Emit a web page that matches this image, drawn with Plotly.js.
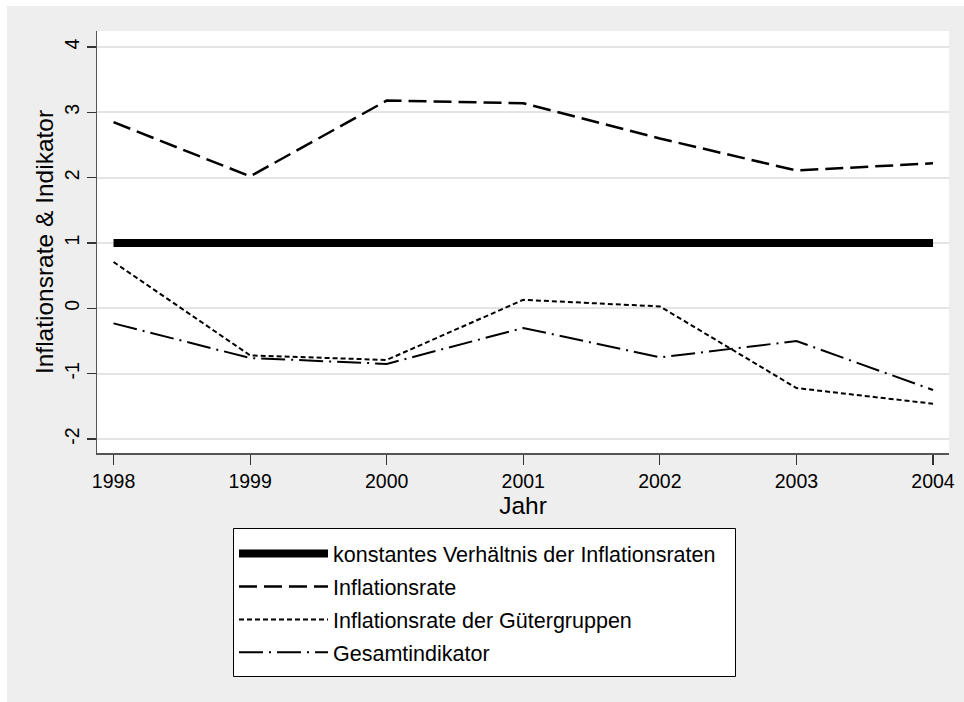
<!DOCTYPE html>
<html>
<head>
<meta charset="utf-8">
<script src="https://cdn.plot.ly/plotly-3.0.1.min.js"></script>
<style>html,body{margin:0;padding:0;background:#fff;}#chart{width:964px;height:702px;}</style>
</head>
<body>
<div id="chart"></div>
<script>
const years = [1998, 1999, 2000, 2001, 2002, 2003, 2004];
const konstant = [1, 1, 1, 1, 1, 1, 1];
const inflationsrate = [2.85, 2.02, 3.18, 3.14, 2.60, 2.11, 2.22];
const gueterGruppen = [0.71, -0.72, -0.79, 0.13, 0.03, -1.22, -1.46];
const gesamtindikator = [-0.23, -0.76, -0.85, -0.30, -0.75, -0.50, -1.25];
const yTicks = [-2, -1, 0, 1, 2, 3, 4];
const seriesNames = ['konstantes Verhältnis der Inflationsraten', 'Inflationsrate', 'Inflationsrate der Gütergruppen', 'Gesamtindikator'];

const FONT = 'Liberation Sans, Arial, sans-serif';

const traces = [
  {x: years, y: konstant, name: seriesNames[0], mode: 'lines', legendgroup: 'a',
   line: {color: '#000', width: 8}},
  {x: years, y: inflationsrate, name: seriesNames[1], mode: 'lines', legendgroup: 'b',
   line: {color: '#000', width: 2.5, dash: '18px,7px'}},
  {x: years, y: gueterGruppen, name: seriesNames[2], mode: 'lines', legendgroup: 'c',
   line: {color: '#000', width: 2, dash: '5px,3px'}},
  {x: years, y: gesamtindikator, name: seriesNames[3], mode: 'lines', legendgroup: 'd',
   line: {color: '#000', width: 2, dash: '24px,6px,2px,6px'}}
];

const W = 964, H = 702, L = 97, R = 15, T = 31, B = 249;
const pw = W - L - R, ph = H - T - B;
const px = v => (v - L) / pw;
const py = v => (H - B - v) / ph;

const layout = {
  width: W, height: H,
  margin: {l: L, r: R, t: T, b: B, pad: 0},
  paper_bgcolor: '#ffffff',
  plot_bgcolor: '#ffffff',
  font: {family: FONT, color: '#000'},
  showlegend: true,
  shapes: [
    {type: 'rect', xref: 'paper', yref: 'paper', layer: 'below',
     x0: px(7), x1: px(W + 5), y0: py(6), y1: py(H + 5),
     fillcolor: '#eeeeee', line: {width: 0}},
    {type: 'rect', xref: 'paper', yref: 'paper', layer: 'below',
     x0: 0, x1: 1, y0: 0, y1: 1, fillcolor: '#ffffff', line: {width: 0}},
    {type: 'rect', xref: 'paper', yref: 'paper', layer: 'below',
     x0: px(233.5), x1: px(735.5), y0: py(528.5), y1: py(676.5),
     fillcolor: '#ffffff', line: {width: 1, color: '#000'}}
  ],
  xaxis: {
    range: [1997.879, 2004.117],
    tickvals: years, ticktext: years.map(String),
    ticks: 'outside', ticklen: 10, tickwidth: 1.2, tickcolor: '#333',
    showline: true, linecolor: '#555', linewidth: 1.5,
    showgrid: false, zeroline: false,
    tickfont: {size: 19.5, family: FONT, color: '#000'},
    title: {text: 'Jahr', font: {size: 24.5, family: FONT, color: '#000'}, standoff: 0}
  },
  yaxis: {
    range: [-2.214, 4.245],
    tickvals: yTicks, ticktext: yTicks.map(String),
    tickangle: -90,
    ticks: 'outside', ticklen: 9, tickwidth: 1.2, tickcolor: '#333',
    showline: true, linecolor: '#555', linewidth: 1.5,
    showgrid: true, gridcolor: '#e4e4e4', gridwidth: 2,
    zeroline: false,
    tickfont: {size: 19.5, family: FONT, color: '#000'},
    title: {text: 'Inflationsrate & Indikator', font: {size: 24.5, family: FONT, color: '#000'}, standoff: 0}
  },
  legend: {
    x: px(234), y: py(533), xanchor: 'left', yanchor: 'top',
    bgcolor: 'rgba(0,0,0,0)', borderwidth: 0,
    font: {size: 21.5, family: FONT, color: '#000'},
    itemwidth: 89, traceorder: 'grouped', tracegroupgap: 2
  }
};

Plotly.newPlot('chart', traces, layout, {displayModeBar: false, staticPlot: true});
</script>
</body>
</html>
